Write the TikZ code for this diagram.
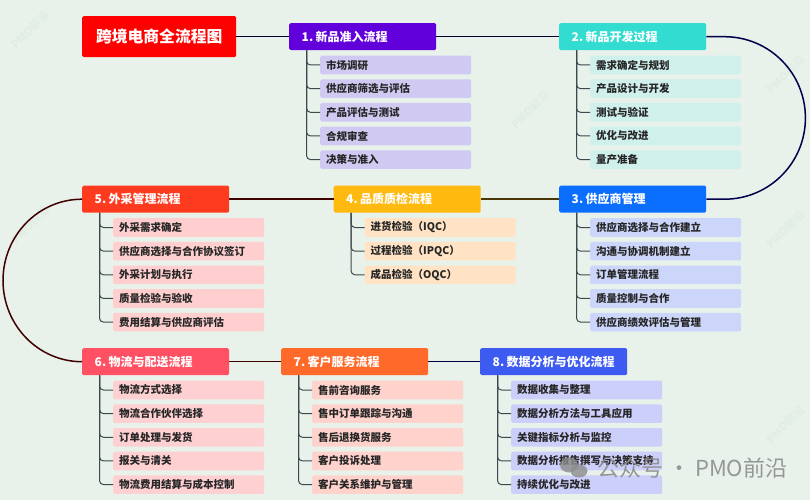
\documentclass[tikz,border=0pt]{standalone}
\usepackage{fontspec}
\setmainfont{Noto Sans CJK SC}
\usetikzlibrary{calc}
\definecolor{bgc}{HTML}{E8F2EA}
\definecolor{wm}{HTML}{E1ECE4}
\definecolor{trunkc}{HTML}{3C4A4E}
\tikzset{x=1pt,y=-1pt,
  head/.style={rounded corners=1.5pt,minimum width=147pt,minimum height=27pt,inner sep=0pt,font=\fontsize{12}{12}\bfseries\selectfont,text=white,anchor=north west,align=left,text width=122pt},
  item/.style={rounded corners=1.5pt,minimum width=151pt,minimum height=18.6pt,inner sep=0pt,font=\fontsize{10.5}{10.5}\bfseries\selectfont,text=black!85,anchor=north west,text width=139pt,align=left},
  trunk/.style={draw=trunkc,line width=1pt,rounded corners=4pt},
  link/.style={line width=1.5pt},
  mark wm/.style={text=wm,rotate=45,font=\fontsize{11}{11}\bfseries\selectfont}
}
% \branch{id}{x}{y}{head colour}{item colour}{title}{items}
\newcommand{\branch}[7]{%
  \node[head,fill=#4] (#1) at (#2,#3) {\makebox[122pt][l]{#6}};
  \coordinate (#1t) at ($(#1.south west)+(17.5,0)$);
  \foreach \lab [count=\n from 0] in {#7} {
    \pgfmathsetmacro{\ix}{#2+31}
    \pgfmathsetmacro{\iy}{#3+32.5+23.65*\n}
    \node[item,fill=#5] (#1i\n) at (\ix,\iy) {\lab};
    \draw[trunk] (#1t) |- (#1i\n.west);
  }%
}
\newcommand{\nb}{\hspace{2.5pt}}
\begin{document}
\begin{tikzpicture}
\useasboundingbox (0,0) rectangle (810,500);
\fill[bgc] (0,0) rectangle (810,500);
% faint watermarks in the empty areas
\foreach \wx/\wy [count=\k] in {30/30,530/110,785/75,785/230,30/225,785/425}{
  \node[mark wm] (w\k) at (\wx,\wy) {PMO前沿};
}
\definecolor{c0}{HTML}{FF0000}
\definecolor{h1}{HTML}{6200DC}\definecolor{t1}{HTML}{D0CAF3}
\definecolor{h2}{HTML}{33DCD0}\definecolor{t2}{HTML}{D0F0EC}
\definecolor{h3}{HTML}{0A6EFF}\definecolor{t3}{HTML}{CCD5FA}
\definecolor{h4}{HTML}{FFB90F}\definecolor{t4}{HTML}{FFE3C4}
\definecolor{h5}{HTML}{FF3B1F}\definecolor{t5}{HTML}{FFCFCF}
\definecolor{h6}{HTML}{FF5064}\definecolor{t6}{HTML}{FFD0D2}
\definecolor{h7}{HTML}{FF6A2A}\definecolor{t7}{HTML}{FFD2CC}
\definecolor{h8}{HTML}{3D5AF1}\definecolor{t8}{HTML}{CDCFFB}
\node[fill=c0,rounded corners=1.5pt,minimum width=154pt,minimum height=41pt,inner sep=0pt,text=white,font=\fontsize{15.8}{16}\bfseries\selectfont,anchor=north west] (root) at (82,16) {跨境电商全流程图};
\branch{n1}{289}{23}{h1}{t1}{1.\nb 新品准入流程}{市场调研,供应商筛选与评估,产品评估与测试,合规审查,决策与准入}
\branch{n2}{559}{23}{h2}{t2}{2.\nb 新品开发过程}{需求确定与规划,产品设计与开发,测试与验证,优化与改进,量产准备}
\branch{n3}{559}{185.5}{h3}{t3}{3.\nb 供应商管理}{供应商选择与合作建立,沟通与协调机制建立,订单管理流程,质量控制与合作,供应商绩效评估与管理}
\branch{n4}{333.5}{185.5}{h4}{t4}{4.\nb 品质质检流程}{进货检验（IQC）,过程检验（IPQC）,成品检验（OQC）}
\branch{n5}{82}{185.5}{h5}{t5}{5.\nb 外采管理流程}{外采需求确定,供应商选择与合作协议签订,外采计划与执行,质量检验与验收,费用结算与供应商评估}
\branch{n6}{82}{348}{h6}{t6}{6.\nb 物流与配送流程}{物流方式选择,物流合作伙伴选择,订单处理与发货,报关与清关,物流费用结算与成本控制}
\branch{n7}{281}{348}{h7}{t7}{7.\nb 客户服务流程}{售前咨询服务,售中订单跟踪与沟通,售后退换货服务,客户投诉处理,客户关系维护与管理}
\branch{n8}{480}{348}{h8}{t8}{8.\nb 数据分析与优化流程}{数据收集与整理,数据分析方法与工具应用,关键指标分析与监控,数据分析报告撰写与决策支持,持续优化与改进}
% links
\draw[link,draw=black!85!blue] (root.east) -- (n1.west);
\draw[link,draw=black!85!blue] (n1.east) -- (n2.west);
\coordinate (rmid) at ($(n2.east)!0.5!(n3.east)+(99,0)$);
\draw[link,draw=black!70!blue] (n2.east) -- ++(18,0) .. controls +(44.9,0) and ($(rmid)+(0,-44.9)$) .. (rmid) .. controls ($(rmid)+(0,44.9)$) and ($(n3.east)+(62.9,0)$) .. ($(n3.east)+(18,0)$) -- (n3.east);
\draw[link,draw=black!70!h4] (n3.west) -- (n4.east);
\draw[link,draw=black!75!red] (n4.west) -- (n5.east);
\coordinate (lmid) at ($(n5.west)!0.5!(n6.west)+(-79,0)$);
\draw[link,draw=black!75!red] (n5.west) .. controls +(-43.6,0) and ($(lmid)+(0,-44.9)$) .. (lmid) .. controls ($(lmid)+(0,44.9)$) and ($(n6.west)+(-43.6,0)$) .. (n6.west);
\draw[link,draw=black!75!red] (n6.east) -- (n7.west);
\draw[link,draw=black!75!blue] (n7.east) -- (n8.west);
% footer mark
\fill[black!45,opacity=.8] (569,465) ellipse[x radius=9,y radius=7.5];
\fill[black!45,opacity=.8] (579,471) ellipse[x radius=8.5,y radius=6.5];
\node[text=black!45,font=\fontsize{22}{22}\selectfont,anchor=west,inner sep=0pt,opacity=.9] (foot) at (597,468) {公众号\hspace{5pt}·\hspace{5pt}PMO前沿};
\end{tikzpicture}
\end{document}
